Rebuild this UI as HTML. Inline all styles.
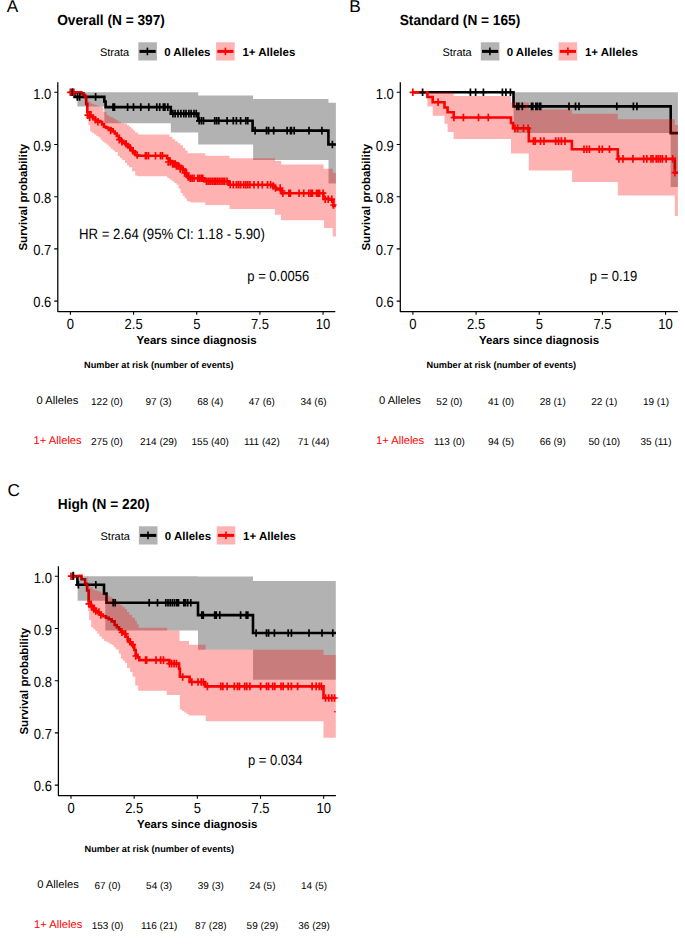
<!DOCTYPE html><html><head><meta charset="utf-8"><style>svg text{text-rendering:geometricPrecision}html,body{margin:0;padding:0;background:#fff;width:685px;height:948px;overflow:hidden;position:relative}</style></head><body><svg width="685" height="948" viewBox="0 0 685 948" font-family='"Liberation Sans", sans-serif' style="position:absolute;left:0;top:0">
<rect width="685" height="948" fill="#fff"/>
<path d="M70.40,92.30 L74.50,92.30 L74.50,96.90 L103.20,96.90 L104.30,96.90 L104.30,101.50 L105.60,101.50 L105.60,107.10 L170.80,107.10 L170.80,113.60 L198.20,113.60 L198.20,120.80 L252.60,120.80 L252.60,130.60 L328.40,130.60 L328.40,144.50 L335.90,144.50" fill="none" stroke="#000" stroke-width="2.6" stroke-linejoin="miter" stroke-linecap="butt"/>
<path d="M70.40,92.30 L79.50,92.30 L81.30,92.30 L81.30,93.40 L83.50,93.40 L83.50,95.00 L85.00,95.00 L85.00,97.00 L86.20,97.00 L86.20,104.00 L87.30,104.00 L87.30,112.30 L90.50,112.30 L90.50,115.50 L92.85,115.50 L92.85,117.85 L95.20,117.85 L95.20,120.20 L97.75,120.20 L97.75,121.10 L100.30,121.10 L100.30,122.00 L102.15,122.00 L102.15,124.35 L104.00,124.35 L104.00,126.70 L106.00,126.70 L106.00,127.60 L108.00,127.60 L108.00,128.50 L110.70,128.50 L110.70,129.40 L112.70,129.40 L112.70,131.45 L114.70,131.45 L114.70,133.50 L116.77,133.50 L116.77,135.90 L118.83,135.90 L118.83,138.30 L120.90,138.30 L120.90,140.70 L123.27,140.70 L123.27,142.73 L125.63,142.73 L125.63,144.77 L128.00,144.77 L128.00,146.80 L130.40,146.80 L130.40,149.53 L132.80,149.53 L132.80,152.27 L135.20,152.27 L135.20,155.00 L137.00,155.00 L137.00,155.80 L164.80,155.80 L167.10,155.80 L167.10,158.40 L169.40,158.40 L169.40,161.00 L171.77,161.00 L171.77,162.00 L174.13,162.00 L174.13,163.00 L176.50,163.00 L176.50,164.00 L178.57,164.00 L178.57,165.87 L180.63,165.87 L180.63,167.73 L182.70,167.73 L182.70,169.60 L185.35,169.60 L185.35,173.70 L188.00,173.70 L188.00,177.80 L190.80,177.80 L190.80,178.30 L204.30,178.30 L204.30,181.30 L229.20,181.30 L229.20,184.80 L273.00,184.80 L273.50,184.80 L273.50,187.50 L276.00,187.50 L276.00,189.50 L280.00,189.50 L281.50,189.50 L281.50,193.20 L322.50,193.20 L323.50,193.20 L323.50,198.80 L329.30,198.80 L329.30,199.80 L332.30,199.80 L333.40,199.80 L333.40,206.00 L335.90,206.00" fill="none" stroke="#f00" stroke-width="2.6" stroke-linejoin="miter" stroke-linecap="butt"/>
<path d="M77.40,92.30H104.30V106.50H77.40ZM104.30,92.30H170.80V123.30H104.30ZM170.80,92.30H198.20V132.50H170.80ZM198.20,95.60H253.10V144.60H198.20ZM253.10,98.90H328.50V159.90H253.10ZM328.50,102.70H335.90V183.50H328.50Z" fill="rgba(0,0,0,0.3)" stroke="none"/>
<path d="M82.00,92.30 L84.20,92.30 L84.20,96.30 L86.40,96.30 L86.40,100.30 L88.45,100.30 L88.45,101.85 L90.50,101.85 L90.50,103.40 L92.55,103.40 L92.55,104.15 L94.60,104.15 L94.60,104.90 L97.15,104.90 L97.15,105.65 L99.70,105.65 L99.70,106.40 L102.80,106.40 L102.80,108.00 L103.50,108.00 L103.50,112.00 L106.60,112.00 L106.60,115.10 L108.65,115.10 L108.65,116.15 L110.70,116.15 L110.70,117.20 L113.25,117.20 L113.25,118.70 L115.80,118.70 L115.80,120.20 L118.35,120.20 L118.35,121.75 L120.90,121.75 L120.90,123.30 L124.00,123.30 L124.00,123.80 L127.00,123.80 L127.00,125.30 L129.05,125.30 L129.05,126.85 L131.10,126.85 L131.10,128.40 L133.15,128.40 L133.15,130.45 L135.20,130.45 L135.20,132.50 L138.20,132.50 L138.20,134.50 L166.40,134.50 L169.40,134.50 L169.40,136.85 L172.40,136.85 L172.40,139.20 L175.13,139.20 L175.13,141.23 L177.87,141.23 L177.87,143.27 L180.60,143.27 L180.60,145.30 L182.97,145.30 L182.97,147.93 L185.33,147.93 L185.33,150.57 L187.70,150.57 L187.70,153.20 L205.30,153.20 L205.30,155.80 L229.60,155.80 L229.60,158.20 L275.00,158.20 L275.00,160.90 L281.20,160.90 L281.20,164.50 L323.60,164.50 L323.60,168.70 L332.80,168.70 L332.80,172.80 L335.90,172.80 L335.90,236.60 L332.80,236.60 L332.80,228.00 L324.00,228.00 L324.00,220.30 L281.00,220.30 L281.00,214.70 L274.80,214.70 L274.80,209.10 L229.60,209.10 L229.60,204.90 L205.30,204.90 L205.30,202.50 L190.80,202.50 L190.80,201.80 L188.80,201.80 L188.80,201.10 L186.80,201.10 L186.80,198.37 L184.73,198.37 L184.73,195.63 L182.67,195.63 L182.67,192.90 L180.60,192.90 L180.60,188.80 L178.55,188.80 L178.55,184.70 L176.50,184.70 L176.50,183.00 L174.13,183.00 L174.13,181.30 L171.77,181.30 L171.77,179.60 L169.40,179.60 L169.40,177.95 L167.20,177.95 L167.20,176.30 L165.00,176.30 L137.20,176.30 L137.20,175.40 L135.20,175.40 L135.20,171.30 L132.10,171.30 L132.10,167.20 L129.00,167.20 L129.00,165.15 L127.00,165.15 L127.00,163.10 L125.00,163.10 L125.00,160.10 L121.90,160.10 L121.90,158.05 L119.85,158.05 L119.85,156.00 L117.80,156.00 L117.80,151.90 L114.70,151.90 L114.70,150.35 L112.70,150.35 L112.70,148.80 L110.70,148.80 L110.70,146.75 L108.65,146.75 L108.65,144.70 L106.60,144.70 L106.60,143.20 L104.55,143.20 L104.55,141.70 L102.50,141.70 L102.50,139.65 L100.45,139.65 L100.45,137.60 L98.40,137.60 L98.40,136.05 L96.35,136.05 L96.35,134.50 L94.30,134.50 L94.30,133.00 L92.25,133.00 L92.25,131.50 L90.20,131.50 L90.20,125.00 L88.35,125.00 L88.35,118.50 L86.50,118.50 L86.50,113.60 L85.90,113.60 L85.90,101.30 L84.40,101.30 L84.40,92.30 L82.00,92.30Z" fill="rgba(255,0,0,0.3)" stroke="none"/>
<path d="M72.30,88.50V96.10M69.10,92.30H75.50M77.30,93.10V100.70M74.10,96.90H80.50M79.60,93.10V100.70M76.40,96.90H82.80M95.60,93.10V100.70M92.40,96.90H98.80M113.00,103.30V110.90M109.80,107.10H116.20M114.50,103.30V110.90M111.30,107.10H117.70M127.60,103.30V110.90M124.40,107.10H130.80M133.50,103.30V110.90M130.30,107.10H136.70M140.80,103.30V110.90M137.60,107.10H144.00M148.80,103.30V110.90M145.60,107.10H152.00M156.80,103.30V110.90M153.60,107.10H160.00M159.70,103.30V110.90M156.50,107.10H162.90M163.40,103.30V110.90M160.20,107.10H166.60M164.90,103.30V110.90M161.70,107.10H168.10M167.80,103.30V110.90M164.60,107.10H171.00M172.90,109.80V117.40M169.70,113.60H176.10M175.10,109.80V117.40M171.90,113.60H178.30M178.00,109.80V117.40M174.80,113.60H181.20M180.90,109.80V117.40M177.70,113.60H184.10M183.80,109.80V117.40M180.60,113.60H187.00M186.00,109.80V117.40M182.80,113.60H189.20M188.90,109.80V117.40M185.70,113.60H192.10M191.10,109.80V117.40M187.90,113.60H194.30M194.00,109.80V117.40M190.80,113.60H197.20M196.20,109.80V117.40M193.00,113.60H199.40M199.20,117.00V124.60M196.00,120.80H202.40M201.40,117.00V124.60M198.20,120.80H204.60M203.50,117.00V124.60M200.30,120.80H206.70M214.70,117.00V124.60M211.50,120.80H217.90M216.70,117.00V124.60M213.50,120.80H219.90M218.80,117.00V124.60M215.60,120.80H222.00M227.10,117.00V124.60M223.90,120.80H230.30M233.30,117.00V124.60M230.10,120.80H236.50M236.40,117.00V124.60M233.20,120.80H239.60M240.60,117.00V124.60M237.40,120.80H243.80M245.80,117.00V124.60M242.60,120.80H249.00M247.80,117.00V124.60M244.60,120.80H251.00M255.10,126.80V134.40M251.90,130.60H258.30M266.50,126.80V134.40M263.30,130.60H269.70M268.60,126.80V134.40M265.40,130.60H271.80M273.70,126.80V134.40M270.50,130.60H276.90M287.10,126.80V134.40M283.90,130.60H290.30M290.50,126.80V134.40M287.30,130.60H293.70M291.40,126.80V134.40M288.20,130.60H294.60M294.20,126.80V134.40M291.00,130.60H297.40M309.00,126.80V134.40M305.80,130.60H312.20M321.90,126.80V134.40M318.70,130.60H325.10M332.40,140.70V148.30M329.20,144.50H335.60" fill="none" stroke="#000" stroke-width="1.7"/>
<path d="M70.30,88.50V96.10M67.10,92.30H73.50M73.80,88.50V96.10M70.60,92.30H77.00M87.70,111.30V118.90M84.50,115.10H90.90M89.70,113.40V121.00M86.50,117.20H92.90M95.30,115.90V123.50M92.10,119.70H98.50M97.90,118.00V125.60M94.70,121.80H101.10M110.70,126.70V134.30M107.50,130.50H113.90M119.30,135.80V143.40M116.10,139.60H122.50M121.90,137.90V145.50M118.70,141.70H125.10M126.00,139.90V147.50M122.80,143.70H129.20M130.10,144.00V151.60M126.90,147.80H133.30M133.10,147.10V154.70M129.90,150.90H136.30M137.20,151.20V158.80M134.00,155.00H140.40M145.40,152.00V159.60M142.20,155.80H148.60M146.40,152.00V159.60M143.20,155.80H149.60M148.50,152.00V159.60M145.30,155.80H151.70M155.50,152.00V159.60M152.30,155.80H158.70M160.50,152.00V159.60M157.30,155.80H163.70M162.50,152.00V159.60M159.30,155.80H165.70M168.20,158.20V165.80M165.00,162.00H171.40M170.10,158.20V165.80M166.90,162.00H173.30M172.60,160.20V167.80M169.40,164.00H175.80M173.90,160.20V167.80M170.70,164.00H177.10M175.20,160.20V167.80M172.00,164.00H178.40M176.40,162.20V169.80M173.20,166.00H179.60M178.30,162.20V169.80M175.10,166.00H181.50M180.20,165.20V172.80M177.00,169.00H183.40M182.70,165.20V172.80M179.50,169.00H185.90M184.60,169.20V176.80M181.40,173.00H187.80M186.50,169.20V176.80M183.30,173.00H189.70M188.30,173.20V180.80M185.10,177.00H191.50M190.20,174.50V182.10M187.00,178.30H193.40M192.10,174.50V182.10M188.90,178.30H195.30M194.00,174.50V182.10M190.80,178.30H197.20M197.80,174.50V182.10M194.60,178.30H201.00M199.60,174.50V182.10M196.40,178.30H202.80M201.50,174.50V182.10M198.30,178.30H204.70M202.80,174.50V182.10M199.60,178.30H206.00M206.50,177.50V185.10M203.30,181.30H209.70M208.40,177.50V185.10M205.20,181.30H211.60M210.30,177.50V185.10M207.10,181.30H213.50M212.20,177.50V185.10M209.00,181.30H215.40M214.10,177.50V185.10M210.90,181.30H217.30M215.30,177.50V185.10M212.10,181.30H218.50M217.20,177.50V185.10M214.00,181.30H220.40M219.10,177.50V185.10M215.90,181.30H222.30M221.00,177.50V185.10M217.80,181.30H224.20M222.90,177.50V185.10M219.70,181.30H226.10M224.70,177.50V185.10M221.50,181.30H227.90M227.10,177.50V185.10M223.90,181.30H230.30M230.20,181.00V188.60M227.00,184.80H233.40M233.30,181.00V188.60M230.10,184.80H236.50M236.40,181.00V188.60M233.20,184.80H239.60M238.50,181.00V188.60M235.30,184.80H241.70M240.60,181.00V188.60M237.40,184.80H243.80M243.70,181.00V188.60M240.50,184.80H246.90M245.80,181.00V188.60M242.60,184.80H249.00M247.80,181.00V188.60M244.60,184.80H251.00M249.90,181.00V188.60M246.70,184.80H253.10M254.00,181.00V188.60M250.80,184.80H257.20M258.20,181.00V188.60M255.00,184.80H261.40M262.30,181.00V188.60M259.10,184.80H265.50M267.50,181.00V188.60M264.30,184.80H270.70M270.60,181.00V188.60M267.40,184.80H273.80M273.10,182.20V189.80M269.90,186.00H276.30M275.60,184.20V191.80M272.40,188.00H278.80M280.20,184.20V191.80M277.00,188.00H283.40M282.30,187.20V194.80M279.10,191.00H285.50M282.80,189.40V197.00M279.60,193.20H286.00M288.90,189.40V197.00M285.70,193.20H292.10M290.40,189.40V197.00M287.20,193.20H293.60M299.10,189.40V197.00M295.90,193.20H302.30M303.70,189.40V197.00M300.50,193.20H306.90M308.80,189.40V197.00M305.60,193.20H312.00M310.90,189.40V197.00M307.70,193.20H314.10M312.40,189.40V197.00M309.20,193.20H315.60M316.50,189.40V197.00M313.30,193.20H319.70M318.00,189.40V197.00M314.80,193.20H321.20M319.60,189.40V197.00M316.40,193.20H322.80M323.10,189.40V197.00M319.90,193.20H326.30M325.20,195.50V203.10M322.00,199.30H328.40M328.20,195.50V203.10M325.00,199.30H331.40M331.80,195.50V203.10M328.60,199.30H335.00M333.40,201.20V208.80M330.20,205.00H336.60" fill="none" stroke="#f00" stroke-width="1.7"/>
<path d="M72.30,88.50V96.10M72.05,92.30H72.55" fill="none" stroke="#000" stroke-width="1.7"/>
<text x="6.80" y="11.90" font-size="17.2" font-weight="normal" text-anchor="start" fill="#000" >A</text>
<text x="0" y="0" transform="translate(57.20,24.60) scale(1,1.06)" font-size="13.7" font-weight="bold" text-anchor="start" fill="#000" >Overall (N = 397)</text>
<text x="99.90" y="56.10" font-size="11" font-weight="normal" text-anchor="start" fill="#000" >Strata</text>
<rect x="138.30" y="42.30" width="18.6" height="18.2" fill="#b3b3b3"/>
<path d="M139.50,51.40H155.70" stroke="#000" stroke-width="3"/>
<path d="M147.40,47.60V55.20" stroke="#000" stroke-width="1.6"/>
<text x="164.20" y="56.10" font-size="11.5" font-weight="bold" text-anchor="start" fill="#000" >0 Alleles</text>
<rect x="216.10" y="42.30" width="18.6" height="18.2" fill="#ffb3b3"/>
<path d="M217.30,51.40H233.50" stroke="#f00" stroke-width="3"/>
<path d="M225.40,47.60V55.20" stroke="#f00" stroke-width="1.6"/>
<text x="242.40" y="56.10" font-size="11.5" font-weight="bold" text-anchor="start" fill="#000" >1+ Alleles</text>
<path d="M57.80,82.30V311.60H335.30" fill="none" stroke="#000" stroke-width="1.25" stroke-linejoin="round"/>
<text x="0" y="0" transform="translate(51.30,98.50) scale(1,1.13)" font-size="13" font-weight="normal" text-anchor="end" fill="#000" >1.0</text>
<text x="0" y="0" transform="translate(51.30,150.70) scale(1,1.13)" font-size="13" font-weight="normal" text-anchor="end" fill="#000" >0.9</text>
<text x="0" y="0" transform="translate(51.30,202.90) scale(1,1.13)" font-size="13" font-weight="normal" text-anchor="end" fill="#000" >0.8</text>
<text x="0" y="0" transform="translate(51.30,255.10) scale(1,1.13)" font-size="13" font-weight="normal" text-anchor="end" fill="#000" >0.7</text>
<text x="0" y="0" transform="translate(51.30,307.30) scale(1,1.13)" font-size="13" font-weight="normal" text-anchor="end" fill="#000" >0.6</text>
<text x="0" y="0" transform="translate(70.40,329.00) scale(1,1.13)" font-size="13" font-weight="normal" text-anchor="middle" fill="#000" >0</text>
<text x="0" y="0" transform="translate(133.57,329.00) scale(1,1.13)" font-size="13" font-weight="normal" text-anchor="middle" fill="#000" >2.5</text>
<text x="0" y="0" transform="translate(196.74,329.00) scale(1,1.13)" font-size="13" font-weight="normal" text-anchor="middle" fill="#000" >5</text>
<text x="0" y="0" transform="translate(259.91,329.00) scale(1,1.13)" font-size="13" font-weight="normal" text-anchor="middle" fill="#000" >7.5</text>
<text x="0" y="0" transform="translate(323.08,329.00) scale(1,1.13)" font-size="13" font-weight="normal" text-anchor="middle" fill="#000" >10</text>
<path d="M54.20,92.30H57.80M54.20,144.50H57.80M54.20,196.70H57.80M54.20,248.90H57.80M54.20,301.10H57.80M70.40,311.10V314.80M133.57,311.10V314.80M196.74,311.10V314.80M259.91,311.10V314.80M323.08,311.10V314.80" stroke="#000" stroke-width="1.1"/>
<text x="196.60" y="344.00" font-size="11.5" font-weight="bold" text-anchor="middle" fill="#000" >Years since diagnosis</text>
<text x="0" y="0" font-size="11.5" font-weight="bold" text-anchor="middle" transform="translate(27.10,197.20) rotate(-90)">Survival probability</text>
<text x="0" y="0" transform="translate(79.00,239.00) scale(1,1.13)" font-size="13.2" font-weight="normal" text-anchor="start" fill="#000" >HR = 2.64 (95% CI: 1.18 - 5.90)</text>
<text x="0" y="0" transform="translate(247.30,280.70) scale(1,1.12)" font-size="13" font-weight="normal" text-anchor="start" fill="#000" >p = 0.0056</text>
<text x="84.00" y="368.40" font-size="9.2" font-weight="bold" text-anchor="start" fill="#000" >Number at risk (number of events)</text>
<text x="57.40" y="403.90" font-size="11.2" font-weight="normal" text-anchor="middle" fill="#000" >0 Alleles</text>
<text x="57.60" y="444.10" font-size="11.2" font-weight="normal" text-anchor="middle" fill="#f00" >1+ Alleles</text>
<text x="106.90" y="405.30" font-size="10" font-weight="normal" text-anchor="middle" fill="#000" >122 (0)</text>
<text x="106.90" y="444.50" font-size="10" font-weight="normal" text-anchor="middle" fill="#000" >275 (0)</text>
<text x="158.55" y="405.30" font-size="10" font-weight="normal" text-anchor="middle" fill="#000" >97 (3)</text>
<text x="158.55" y="444.50" font-size="10" font-weight="normal" text-anchor="middle" fill="#000" >214 (29)</text>
<text x="210.20" y="405.30" font-size="10" font-weight="normal" text-anchor="middle" fill="#000" >68 (4)</text>
<text x="210.20" y="444.50" font-size="10" font-weight="normal" text-anchor="middle" fill="#000" >155 (40)</text>
<text x="261.85" y="405.30" font-size="10" font-weight="normal" text-anchor="middle" fill="#000" >47 (6)</text>
<text x="261.85" y="444.50" font-size="10" font-weight="normal" text-anchor="middle" fill="#000" >111 (42)</text>
<text x="313.50" y="405.30" font-size="10" font-weight="normal" text-anchor="middle" fill="#000" >34 (6)</text>
<text x="313.50" y="444.50" font-size="10" font-weight="normal" text-anchor="middle" fill="#000" >71 (44)</text>
<path d="M412.90,92.30 L513.50,92.30 L513.50,106.40 L670.70,106.40 L670.70,133.10 L677.90,133.10" fill="none" stroke="#000" stroke-width="2.6" stroke-linejoin="miter" stroke-linecap="butt"/>
<path d="M412.90,92.30 L427.40,92.30 L427.40,97.00 L432.70,97.00 L432.70,102.20 L444.50,102.20 L444.50,107.50 L447.60,107.50 L447.60,112.30 L453.70,112.30 L453.70,117.50 L511.00,117.50 L511.00,123.00 L513.00,123.00 L513.00,128.30 L528.80,128.30 L528.80,141.10 L571.90,141.10 L571.90,149.30 L617.80,149.30 L617.80,158.90 L674.80,158.90 L674.80,172.70 L677.90,172.70" fill="none" stroke="#f00" stroke-width="2.6" stroke-linejoin="miter" stroke-linecap="butt"/>
<path d="M513.60,92.30H670.70V133.00H513.60ZM670.70,92.30H677.90V186.90H670.70Z" fill="rgba(0,0,0,0.3)" stroke="none"/>
<path d="M427.40,92.30 L453.70,92.30 L453.70,95.90 L511.00,95.90 L511.00,102.40 L528.80,102.40 L528.80,109.50 L572.10,109.50 L572.10,113.80 L617.80,113.80 L617.80,119.20 L674.80,119.20 L674.80,124.90 L677.90,124.90 L677.90,215.90 L674.80,215.90 L674.80,195.60 L617.80,195.60 L617.80,182.00 L572.10,182.00 L572.10,170.60 L528.80,170.60 L528.80,153.50 L511.00,153.50 L511.00,138.90 L453.70,138.90 L453.70,132.00 L447.60,132.00 L447.60,123.80 L444.50,123.80 L444.50,115.80 L432.70,115.80 L432.70,106.60 L427.40,106.60 L427.40,92.30Z" fill="rgba(255,0,0,0.3)" stroke="none"/>
<path d="M422.60,88.50V96.10M419.40,92.30H425.80M470.40,88.50V96.10M467.20,92.30H473.60M475.60,88.50V96.10M472.40,92.30H478.80M483.40,88.50V96.10M480.20,92.30H486.60M502.40,88.50V96.10M499.20,92.30H505.60M505.90,88.50V96.10M502.70,92.30H509.10M510.40,88.50V96.10M507.20,92.30H513.60M516.90,102.60V110.20M513.70,106.40H520.10M518.80,102.60V110.20M515.60,106.40H522.00M522.30,102.60V110.20M519.10,106.40H525.50M531.50,102.60V110.20M528.30,106.40H534.70M532.80,102.60V110.20M529.60,106.40H536.00M535.90,102.60V110.20M532.70,106.40H539.10M537.70,102.60V110.20M534.50,106.40H540.90M539.90,102.60V110.20M536.70,106.40H543.10M540.70,102.60V110.20M537.50,106.40H543.90M569.00,102.60V110.20M565.80,106.40H572.20M575.50,102.60V110.20M572.30,106.40H578.70M579.00,102.60V110.20M575.80,106.40H582.20M616.80,102.60V110.20M613.60,106.40H620.00M633.40,102.60V110.20M630.20,106.40H636.60M636.90,102.60V110.20M633.70,106.40H640.10" fill="none" stroke="#000" stroke-width="1.7"/>
<path d="M412.80,88.50V96.10M409.60,92.30H416.00M438.10,98.40V106.00M434.90,102.20H441.30M453.90,113.70V121.30M450.70,117.50H457.10M463.40,113.70V121.30M460.20,117.50H466.60M478.50,113.70V121.30M475.30,117.50H481.70M488.30,113.70V121.30M485.10,117.50H491.50M515.00,124.50V132.10M511.80,128.30H518.20M517.60,124.50V132.10M514.40,128.30H520.80M523.50,124.50V132.10M520.30,128.30H526.70M528.10,124.50V132.10M524.90,128.30H531.30M533.40,137.30V144.90M530.20,141.10H536.60M535.30,137.30V144.90M532.10,141.10H538.50M540.50,137.30V144.90M537.30,141.10H543.70M544.00,137.30V144.90M540.80,141.10H547.20M555.70,137.30V144.90M552.50,141.10H558.90M558.50,137.30V144.90M555.30,141.10H561.70M561.40,137.30V144.90M558.20,141.10H564.60M565.00,137.30V144.90M561.80,141.10H568.20M584.00,145.50V153.10M580.80,149.30H587.20M586.70,145.50V153.10M583.50,149.30H589.90M589.40,145.50V153.10M586.20,149.30H592.60M599.20,145.50V153.10M596.00,149.30H602.40M602.30,145.50V153.10M599.10,149.30H605.50M609.50,145.50V153.10M606.30,149.30H612.70M618.80,155.10V162.70M615.60,158.90H622.00M623.00,155.10V162.70M619.80,158.90H626.20M632.90,155.10V162.70M629.70,158.90H636.10M643.70,155.10V162.70M640.50,158.90H646.90M646.80,155.10V162.70M643.60,158.90H650.00M651.00,155.10V162.70M647.80,158.90H654.20M653.00,155.10V162.70M649.80,158.90H656.20M656.20,155.10V162.70M653.00,158.90H659.40M658.20,155.10V162.70M655.00,158.90H661.40M660.30,155.10V162.70M657.10,158.90H663.50M662.40,155.10V162.70M659.20,158.90H665.60M666.10,155.10V162.70M662.90,158.90H669.30M672.70,155.10V162.70M669.50,158.90H675.90M674.80,168.90V176.50M671.60,172.70H678.00" fill="none" stroke="#f00" stroke-width="1.7"/>
<text x="349.30" y="11.90" font-size="17.2" font-weight="normal" text-anchor="start" fill="#000" >B</text>
<text x="0" y="0" transform="translate(399.70,24.60) scale(1,1.06)" font-size="13.7" font-weight="bold" text-anchor="start" fill="#000" >Standard (N = 165)</text>
<text x="442.40" y="56.10" font-size="11" font-weight="normal" text-anchor="start" fill="#000" >Strata</text>
<rect x="480.80" y="42.30" width="18.6" height="18.2" fill="#b3b3b3"/>
<path d="M482.00,51.40H498.20" stroke="#000" stroke-width="3"/>
<path d="M489.90,47.60V55.20" stroke="#000" stroke-width="1.6"/>
<text x="506.70" y="56.10" font-size="11.5" font-weight="bold" text-anchor="start" fill="#000" >0 Alleles</text>
<rect x="558.60" y="42.30" width="18.6" height="18.2" fill="#ffb3b3"/>
<path d="M559.80,51.40H576.00" stroke="#f00" stroke-width="3"/>
<path d="M567.90,47.60V55.20" stroke="#f00" stroke-width="1.6"/>
<text x="584.90" y="56.10" font-size="11.5" font-weight="bold" text-anchor="start" fill="#000" >1+ Alleles</text>
<path d="M400.30,82.30V311.60H677.80" fill="none" stroke="#000" stroke-width="1.25" stroke-linejoin="round"/>
<text x="0" y="0" transform="translate(393.80,98.50) scale(1,1.13)" font-size="13" font-weight="normal" text-anchor="end" fill="#000" >1.0</text>
<text x="0" y="0" transform="translate(393.80,150.70) scale(1,1.13)" font-size="13" font-weight="normal" text-anchor="end" fill="#000" >0.9</text>
<text x="0" y="0" transform="translate(393.80,202.90) scale(1,1.13)" font-size="13" font-weight="normal" text-anchor="end" fill="#000" >0.8</text>
<text x="0" y="0" transform="translate(393.80,255.10) scale(1,1.13)" font-size="13" font-weight="normal" text-anchor="end" fill="#000" >0.7</text>
<text x="0" y="0" transform="translate(393.80,307.30) scale(1,1.13)" font-size="13" font-weight="normal" text-anchor="end" fill="#000" >0.6</text>
<text x="0" y="0" transform="translate(412.90,329.00) scale(1,1.13)" font-size="13" font-weight="normal" text-anchor="middle" fill="#000" >0</text>
<text x="0" y="0" transform="translate(476.07,329.00) scale(1,1.13)" font-size="13" font-weight="normal" text-anchor="middle" fill="#000" >2.5</text>
<text x="0" y="0" transform="translate(539.24,329.00) scale(1,1.13)" font-size="13" font-weight="normal" text-anchor="middle" fill="#000" >5</text>
<text x="0" y="0" transform="translate(602.41,329.00) scale(1,1.13)" font-size="13" font-weight="normal" text-anchor="middle" fill="#000" >7.5</text>
<text x="0" y="0" transform="translate(665.58,329.00) scale(1,1.13)" font-size="13" font-weight="normal" text-anchor="middle" fill="#000" >10</text>
<path d="M396.70,92.30H400.30M396.70,144.50H400.30M396.70,196.70H400.30M396.70,248.90H400.30M396.70,301.10H400.30M412.90,311.10V314.80M476.07,311.10V314.80M539.24,311.10V314.80M602.41,311.10V314.80M665.58,311.10V314.80" stroke="#000" stroke-width="1.1"/>
<text x="539.10" y="344.00" font-size="11.5" font-weight="bold" text-anchor="middle" fill="#000" >Years since diagnosis</text>
<text x="0" y="0" font-size="11.5" font-weight="bold" text-anchor="middle" transform="translate(369.60,197.20) rotate(-90)">Survival probability</text>
<text x="0" y="0" transform="translate(589.80,280.70) scale(1,1.12)" font-size="13" font-weight="normal" text-anchor="start" fill="#000" >p = 0.19</text>
<text x="426.50" y="368.40" font-size="9.2" font-weight="bold" text-anchor="start" fill="#000" >Number at risk (number of events)</text>
<text x="399.90" y="403.90" font-size="11.2" font-weight="normal" text-anchor="middle" fill="#000" >0 Alleles</text>
<text x="400.10" y="444.10" font-size="11.2" font-weight="normal" text-anchor="middle" fill="#f00" >1+ Alleles</text>
<text x="449.40" y="405.30" font-size="10" font-weight="normal" text-anchor="middle" fill="#000" >52 (0)</text>
<text x="449.40" y="444.50" font-size="10" font-weight="normal" text-anchor="middle" fill="#000" >113 (0)</text>
<text x="501.05" y="405.30" font-size="10" font-weight="normal" text-anchor="middle" fill="#000" >41 (0)</text>
<text x="501.05" y="444.50" font-size="10" font-weight="normal" text-anchor="middle" fill="#000" >94 (5)</text>
<text x="552.70" y="405.30" font-size="10" font-weight="normal" text-anchor="middle" fill="#000" >28 (1)</text>
<text x="552.70" y="444.50" font-size="10" font-weight="normal" text-anchor="middle" fill="#000" >66 (9)</text>
<text x="604.35" y="405.30" font-size="10" font-weight="normal" text-anchor="middle" fill="#000" >22 (1)</text>
<text x="604.35" y="444.50" font-size="10" font-weight="normal" text-anchor="middle" fill="#000" >50 (10)</text>
<text x="656.00" y="405.30" font-size="10" font-weight="normal" text-anchor="middle" fill="#000" >19 (1)</text>
<text x="656.00" y="444.50" font-size="10" font-weight="normal" text-anchor="middle" fill="#000" >35 (11)</text>
<path d="M71.00,576.20 L77.40,576.20 L77.40,584.80 L104.00,584.80 L104.00,593.60 L106.50,593.60 L106.50,602.80 L198.00,602.80 L198.00,615.10 L253.00,615.10 L253.00,633.00 L335.80,633.00" fill="none" stroke="#000" stroke-width="2.6" stroke-linejoin="miter" stroke-linecap="butt"/>
<path d="M71.00,576.20 L73.12,576.20 L73.12,576.12 L75.25,576.12 L75.25,576.05 L77.38,576.05 L77.38,575.98 L79.50,575.98 L79.50,575.90 L81.50,575.90 L81.50,579.30 L85.10,579.30 L85.10,583.90 L87.10,583.90 L87.10,590.50 L88.70,590.50 L88.70,601.80 L90.70,601.80 L90.70,605.90 L93.80,605.90 L93.80,608.90 L95.85,608.90 L95.85,610.95 L97.90,610.95 L97.90,613.00 L100.40,613.00 L100.40,614.65 L102.90,614.65 L102.90,616.30 L105.85,616.30 L105.85,617.75 L108.80,617.75 L108.80,619.20 L111.70,619.20 L111.70,621.40 L114.60,621.40 L114.60,625.00 L116.80,625.00 L116.80,627.20 L119.00,627.20 L119.00,629.40 L121.20,629.40 L121.20,631.60 L123.40,631.60 L123.40,633.80 L125.55,633.80 L125.55,636.70 L127.70,636.70 L127.70,639.60 L129.90,639.60 L129.90,642.55 L132.10,642.55 L132.10,645.50 L134.30,645.50 L134.30,650.00 L135.70,650.00 L135.70,654.70 L137.50,654.70 L137.50,657.40 L139.30,657.40 L139.30,660.10 L167.00,660.10 L169.40,660.10 L169.40,663.60 L178.40,663.60 L179.10,663.60 L179.10,668.80 L179.90,668.80 L179.90,676.80 L188.60,676.80 L189.60,676.80 L189.60,682.00 L205.00,682.00 L205.00,686.40 L323.50,686.40 L323.50,698.00 L335.80,698.00" fill="none" stroke="#f00" stroke-width="2.6" stroke-linejoin="miter" stroke-linecap="butt"/>
<path d="M77.60,576.20H105.30V600.70H77.60ZM105.30,576.20H198.00V630.60H105.30ZM198.00,576.40H253.00V649.70H198.00ZM253.00,580.90H335.80V679.80H253.00Z" fill="rgba(0,0,0,0.3)" stroke="none"/>
<path d="M84.60,576.20 L85.10,576.20 L87.60,576.20 L87.60,585.40 L90.15,585.40 L90.15,587.45 L92.70,587.45 L92.70,589.50 L94.77,589.50 L94.77,590.17 L96.83,590.17 L96.83,590.83 L98.90,590.83 L98.90,591.50 L101.45,591.50 L101.45,592.95 L104.00,592.95 L104.00,594.40 L106.57,594.40 L106.57,595.60 L109.13,595.60 L109.13,596.80 L111.70,596.80 L111.70,598.00 L114.60,598.00 L114.60,600.55 L117.50,600.55 L117.50,603.10 L119.93,603.10 L119.93,605.07 L122.37,605.07 L122.37,607.03 L124.80,607.03 L124.80,609.00 L127.00,609.00 L127.00,611.90 L129.20,611.90 L129.20,614.80 L132.10,614.80 L132.10,617.75 L135.00,617.75 L135.00,620.70 L136.85,620.70 L136.85,624.20 L138.70,624.20 L138.70,627.70 L167.20,627.70 L167.20,630.40 L178.10,630.40 L179.50,630.40 L179.50,641.00 L189.00,641.00 L189.00,644.80 L205.60,644.80 L205.60,649.70 L323.50,649.70 L323.50,654.90 L335.80,654.90 L335.80,737.70 L323.50,737.70 L323.50,721.30 L205.80,721.30 L205.80,715.50 L188.60,715.50 L188.60,714.02 L186.43,714.02 L186.43,712.55 L184.25,712.55 L184.25,711.08 L182.07,711.08 L182.07,709.60 L179.90,709.60 L179.90,695.00 L178.40,695.00 L166.70,695.00 L166.70,690.70 L138.20,690.70 L138.20,685.40 L135.20,685.40 L135.20,676.70 L132.60,676.70 L132.60,672.10 L130.10,672.10 L130.10,668.00 L127.00,668.00 L127.00,662.90 L125.00,662.90 L125.00,660.85 L122.95,660.85 L122.95,658.80 L120.90,658.80 L120.90,653.70 L118.80,653.70 L118.80,649.60 L115.80,649.60 L115.80,647.30 L113.75,647.30 L113.75,645.00 L111.70,645.00 L111.70,643.67 L109.13,643.67 L109.13,642.33 L106.57,642.33 L106.57,641.00 L104.00,641.00 L104.00,638.70 L101.70,638.70 L101.70,636.40 L99.40,636.40 L99.40,633.80 L97.35,633.80 L97.35,631.20 L95.30,631.20 L95.30,629.20 L93.25,629.20 L93.25,627.20 L91.20,627.20 L91.20,620.00 L89.20,620.00 L89.20,611.00 L88.10,611.00 L88.10,601.80 L87.10,601.80 L87.10,576.20 L84.60,576.20Z" fill="rgba(255,0,0,0.3)" stroke="none"/>
<path d="M73.30,572.40V580.00M70.10,576.20H76.50M78.40,581.00V588.60M75.20,584.80H81.60M95.80,581.00V588.60M92.60,584.80H99.00M113.20,599.00V606.60M110.00,602.80H116.40M115.20,599.00V606.60M112.00,602.80H118.40M149.20,599.00V606.60M146.00,602.80H152.40M157.50,599.00V606.60M154.30,602.80H160.70M165.80,599.00V606.60M162.60,602.80H169.00M168.00,599.00V606.60M164.80,602.80H171.20M170.20,599.00V606.60M167.00,602.80H173.40M172.40,599.00V606.60M169.20,602.80H175.60M174.60,599.00V606.60M171.40,602.80H177.80M176.80,599.00V606.60M173.60,602.80H180.00M178.50,599.00V606.60M175.30,602.80H181.70M183.80,599.00V606.60M180.60,602.80H187.00M185.50,599.00V606.60M182.30,602.80H188.70M187.70,599.00V606.60M184.50,602.80H190.90M190.80,599.00V606.60M187.60,602.80H194.00M201.80,611.30V618.90M198.60,615.10H205.00M203.30,611.30V618.90M200.10,615.10H206.50M214.70,611.30V618.90M211.50,615.10H217.90M216.30,611.30V618.90M213.10,615.10H219.50M219.80,611.30V618.90M216.60,615.10H223.00M240.60,611.30V618.90M237.40,615.10H243.80M246.20,611.30V618.90M243.00,615.10H249.40M247.80,611.30V618.90M244.60,615.10H251.00M256.10,629.20V636.80M252.90,633.00H259.30M266.50,629.20V636.80M263.30,633.00H269.70M268.60,629.20V636.80M265.40,633.00H271.80M274.40,629.20V636.80M271.20,633.00H277.60M288.20,629.20V636.80M285.00,633.00H291.40M291.40,629.20V636.80M288.20,633.00H294.60M309.00,629.20V636.80M305.80,633.00H312.20M322.00,629.20V636.80M318.80,633.00H325.20M332.80,629.20V636.80M329.60,633.00H336.00" fill="none" stroke="#000" stroke-width="1.7"/>
<path d="M71.00,572.40V580.00M67.80,576.20H74.20M73.00,572.40V580.00M69.80,576.20H76.20M88.70,600.00V607.60M85.50,603.80H91.90M91.70,603.10V610.70M88.50,606.90H94.90M93.80,605.10V612.70M90.60,608.90H97.00M95.80,607.20V614.80M92.60,611.00H99.00M98.90,608.20V615.80M95.70,612.00H102.10M100.90,611.20V618.80M97.70,615.00H104.10M121.90,628.50V636.10M118.70,632.30H125.10M125.50,630.00V637.60M122.30,633.80H128.70M129.90,638.00V645.60M126.70,641.80H133.10M132.80,640.90V648.50M129.60,644.70H136.00M135.70,652.20V659.80M132.50,656.00H138.90M145.60,656.30V663.90M142.40,660.10H148.80M146.60,656.30V663.90M143.40,660.10H149.80M156.00,656.30V663.90M152.80,660.10H159.20M160.60,656.30V663.90M157.40,660.10H163.80M163.50,656.30V663.90M160.30,660.10H166.70M169.40,659.80V667.40M166.20,663.60H172.60M171.70,659.80V667.40M168.50,663.60H174.90M174.10,659.80V667.40M170.90,663.60H177.30M176.40,659.80V667.40M173.20,663.60H179.60M182.70,673.20V680.80M179.50,677.00H185.90M191.90,678.20V685.80M188.70,682.00H195.10M198.00,678.20V685.80M194.80,682.00H201.20M201.20,678.20V685.80M198.00,682.00H204.40M203.30,678.20V685.80M200.10,682.00H206.50M207.40,682.60V690.20M204.20,686.40H210.60M220.90,682.60V690.20M217.70,686.40H224.10M222.90,682.60V690.20M219.70,686.40H226.10M227.10,682.60V690.20M223.90,686.40H230.30M234.30,682.60V690.20M231.10,686.40H237.50M237.50,682.60V690.20M234.30,686.40H240.70M239.50,682.60V690.20M236.30,686.40H242.70M244.70,682.60V690.20M241.50,686.40H247.90M246.80,682.60V690.20M243.60,686.40H250.00M249.90,682.60V690.20M246.70,686.40H253.10M260.70,682.60V690.20M257.50,686.40H263.90M266.50,682.60V690.20M263.30,686.40H269.70M268.60,682.60V690.20M265.40,686.40H271.80M272.70,682.60V690.20M269.50,686.40H275.90M274.80,682.60V690.20M271.60,686.40H278.00M281.00,682.60V690.20M277.80,686.40H284.20M283.10,682.60V690.20M279.90,686.40H286.30M288.20,682.60V690.20M285.00,686.40H291.40M291.40,682.60V690.20M288.20,686.40H294.60M297.60,682.60V690.20M294.40,686.40H300.80M312.10,682.60V690.20M308.90,686.40H315.30M316.20,682.60V690.20M313.00,686.40H319.40M319.30,682.60V690.20M316.10,686.40H322.50M321.40,682.60V690.20M318.20,686.40H324.60M325.60,694.20V701.80M322.40,698.00H328.80M328.70,694.20V701.80M325.50,698.00H331.90M331.80,694.20V701.80M328.60,698.00H335.00M334.50,694.20V701.80M331.30,698.00H337.70" fill="none" stroke="#f00" stroke-width="1.7"/>
<path d="M73.30,571.80V579.40M73.05,575.60H73.55" fill="none" stroke="#000" stroke-width="1.7"/>
<rect x="334.2" y="711.0" width="1.4" height="1.4" fill="#f00"/>
<text x="7.40" y="495.90" font-size="17.2" font-weight="normal" text-anchor="start" fill="#000" >C</text>
<text x="0" y="0" transform="translate(57.80,508.60) scale(1,1.06)" font-size="13.7" font-weight="bold" text-anchor="start" fill="#000" >High (N = 220)</text>
<text x="100.50" y="540.10" font-size="11" font-weight="normal" text-anchor="start" fill="#000" >Strata</text>
<rect x="138.90" y="526.30" width="18.6" height="18.2" fill="#b3b3b3"/>
<path d="M140.10,535.40H156.30" stroke="#000" stroke-width="3"/>
<path d="M148.00,531.60V539.20" stroke="#000" stroke-width="1.6"/>
<text x="164.80" y="540.10" font-size="11.5" font-weight="bold" text-anchor="start" fill="#000" >0 Alleles</text>
<rect x="216.70" y="526.30" width="18.6" height="18.2" fill="#ffb3b3"/>
<path d="M217.90,535.40H234.10" stroke="#f00" stroke-width="3"/>
<path d="M226.00,531.60V539.20" stroke="#f00" stroke-width="1.6"/>
<text x="243.00" y="540.10" font-size="11.5" font-weight="bold" text-anchor="start" fill="#000" >1+ Alleles</text>
<path d="M58.40,566.30V795.60H335.90" fill="none" stroke="#000" stroke-width="1.25" stroke-linejoin="round"/>
<text x="0" y="0" transform="translate(51.90,582.50) scale(1,1.13)" font-size="13" font-weight="normal" text-anchor="end" fill="#000" >1.0</text>
<text x="0" y="0" transform="translate(51.90,634.70) scale(1,1.13)" font-size="13" font-weight="normal" text-anchor="end" fill="#000" >0.9</text>
<text x="0" y="0" transform="translate(51.90,686.90) scale(1,1.13)" font-size="13" font-weight="normal" text-anchor="end" fill="#000" >0.8</text>
<text x="0" y="0" transform="translate(51.90,739.10) scale(1,1.13)" font-size="13" font-weight="normal" text-anchor="end" fill="#000" >0.7</text>
<text x="0" y="0" transform="translate(51.90,791.30) scale(1,1.13)" font-size="13" font-weight="normal" text-anchor="end" fill="#000" >0.6</text>
<text x="0" y="0" transform="translate(71.00,813.00) scale(1,1.13)" font-size="13" font-weight="normal" text-anchor="middle" fill="#000" >0</text>
<text x="0" y="0" transform="translate(134.17,813.00) scale(1,1.13)" font-size="13" font-weight="normal" text-anchor="middle" fill="#000" >2.5</text>
<text x="0" y="0" transform="translate(197.34,813.00) scale(1,1.13)" font-size="13" font-weight="normal" text-anchor="middle" fill="#000" >5</text>
<text x="0" y="0" transform="translate(260.51,813.00) scale(1,1.13)" font-size="13" font-weight="normal" text-anchor="middle" fill="#000" >7.5</text>
<text x="0" y="0" transform="translate(323.68,813.00) scale(1,1.13)" font-size="13" font-weight="normal" text-anchor="middle" fill="#000" >10</text>
<path d="M54.80,576.30H58.40M54.80,628.50H58.40M54.80,680.70H58.40M54.80,732.90H58.40M54.80,785.10H58.40M71.00,795.10V798.80M134.17,795.10V798.80M197.34,795.10V798.80M260.51,795.10V798.80M323.68,795.10V798.80" stroke="#000" stroke-width="1.1"/>
<text x="197.20" y="828.00" font-size="11.5" font-weight="bold" text-anchor="middle" fill="#000" >Years since diagnosis</text>
<text x="0" y="0" font-size="11.5" font-weight="bold" text-anchor="middle" transform="translate(27.70,681.20) rotate(-90)">Survival probability</text>
<text x="0" y="0" transform="translate(247.90,764.70) scale(1,1.12)" font-size="13" font-weight="normal" text-anchor="start" fill="#000" >p = 0.034</text>
<text x="84.60" y="852.40" font-size="9.2" font-weight="bold" text-anchor="start" fill="#000" >Number at risk (number of events)</text>
<text x="58.00" y="887.90" font-size="11.2" font-weight="normal" text-anchor="middle" fill="#000" >0 Alleles</text>
<text x="58.20" y="928.10" font-size="11.2" font-weight="normal" text-anchor="middle" fill="#f00" >1+ Alleles</text>
<text x="107.50" y="889.30" font-size="10" font-weight="normal" text-anchor="middle" fill="#000" >67 (0)</text>
<text x="107.50" y="928.50" font-size="10" font-weight="normal" text-anchor="middle" fill="#000" >153 (0)</text>
<text x="159.15" y="889.30" font-size="10" font-weight="normal" text-anchor="middle" fill="#000" >54 (3)</text>
<text x="159.15" y="928.50" font-size="10" font-weight="normal" text-anchor="middle" fill="#000" >116 (21)</text>
<text x="210.80" y="889.30" font-size="10" font-weight="normal" text-anchor="middle" fill="#000" >39 (3)</text>
<text x="210.80" y="928.50" font-size="10" font-weight="normal" text-anchor="middle" fill="#000" >87 (28)</text>
<text x="262.45" y="889.30" font-size="10" font-weight="normal" text-anchor="middle" fill="#000" >24 (5)</text>
<text x="262.45" y="928.50" font-size="10" font-weight="normal" text-anchor="middle" fill="#000" >59 (29)</text>
<text x="314.10" y="889.30" font-size="10" font-weight="normal" text-anchor="middle" fill="#000" >14 (5)</text>
<text x="314.10" y="928.50" font-size="10" font-weight="normal" text-anchor="middle" fill="#000" >36 (29)</text>
</svg></body></html>
